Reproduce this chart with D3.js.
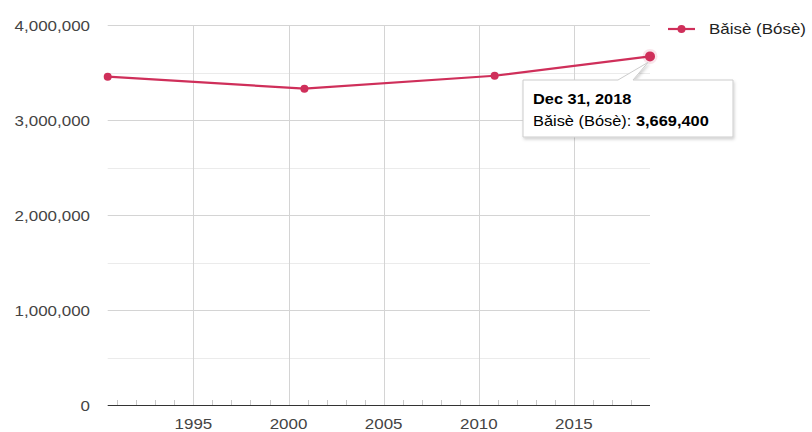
<!DOCTYPE html>
<html>
<head>
<meta charset="utf-8">
<script src="https://cdn.jsdelivr.net/npm/d3@7"></script>
<style>
  html, body { margin: 0; padding: 0; background: #fff; }
  svg { display: block; font-family: Arial, "Liberation Sans", sans-serif; }
</style>
</head>
<body>
<svg id="chart" width="812" height="432"></svg>
<script>
// Population series
const seriesName = "Bǎisè (Bósè)";
const dates = ["1990-07-01", "2000-11-01", "2010-11-01", "2018-12-31"];
const population = [3456000, 3330000, 3466000, 3669400];
const yTicks = [0, 1000000, 2000000, 3000000, 4000000];
const yMinorTicks = [500000, 1500000, 2500000, 3500000];
const xTickYears = [1995, 2000, 2005, 2010, 2015];
const tooltipDate = "Dec 31, 2018";

const parse = d3.utcParse("%Y-%m-%d");
const data = dates.map((d, i) => ({ date: parse(d), value: population[i] }));

const svg = d3.select("#chart");
const plot = { left: 107.7, right: 650, top: 25, bottom: 405 };
const stretch = 1.13; // horizontal text scale
const color = "#cf2f5a";

const x = d3.scaleUtc()
  .domain(d3.extent(data, d => d.date))
  .range([plot.left, plot.right]);
const y = d3.scaleLinear()
  .domain([0, 4000000])
  .range([plot.bottom, plot.top]);

function label(g, tx, ty, str, opts = {}) {
  return g.append("text")
    .attr("transform", `translate(${tx},${ty}) scale(${stretch},1)`)
    .attr("font-size", opts.size || 15)
    .attr("fill", opts.fill || "#444")
    .attr("text-anchor", opts.anchor || "start")
    .attr("font-weight", opts.weight || "normal")
    .text(str);
}

// Minor horizontal gridlines
svg.append("g").selectAll("line").data(yMinorTicks).join("line")
  .attr("x1", plot.left).attr("x2", plot.right)
  .attr("y1", d => Math.round(y(d)) + 0.5).attr("y2", d => Math.round(y(d)) + 0.5)
  .attr("stroke", "#ebebeb");

// Major horizontal gridlines
svg.append("g").selectAll("line").data(yTicks.filter(d => d > 0)).join("line")
  .attr("x1", plot.left).attr("x2", plot.right)
  .attr("y1", d => Math.round(y(d)) + 0.5).attr("y2", d => Math.round(y(d)) + 0.5)
  .attr("stroke", "#d4d4d4");

// Vertical gridlines every five years
const xTickDates = xTickYears.map(yr => new Date(Date.UTC(yr, 0, 1)));
svg.append("g").selectAll("line").data(xTickDates).join("line")
  .attr("x1", d => Math.round(x(d)) + 0.5).attr("x2", d => Math.round(x(d)) + 0.5)
  .attr("y1", plot.top).attr("y2", plot.bottom)
  .attr("stroke", "#d4d4d4");

// Yearly minor ticks on the baseline
const yearTicks = d3.utcYear.range(x.domain()[0], x.domain()[1])
  .filter(d => d.getUTCFullYear() % 5 !== 0);
svg.append("g").selectAll("line").data(yearTicks).join("line")
  .attr("x1", d => Math.round(x(d)) + 0.5).attr("x2", d => Math.round(x(d)) + 0.5)
  .attr("y1", plot.bottom - 5).attr("y2", plot.bottom)
  .attr("stroke", "#c8c8c8");

// Baseline
svg.append("line")
  .attr("x1", plot.left).attr("x2", plot.right)
  .attr("y1", y(0) + 0.5).attr("y2", y(0) + 0.5)
  .attr("stroke", "#333").attr("stroke-width", 1.2);

// Y axis labels
const fmt = d3.format(",");
const yl = svg.append("g");
yTicks.forEach(v => label(yl, 90, y(v) + 6, fmt(v), { anchor: "end" }));

// X axis labels
const xl = svg.append("g");
xTickDates.forEach(d => label(xl, x(d), 429, String(d.getUTCFullYear()), { anchor: "middle" }));

// Series line and points
svg.append("path")
  .datum(data)
  .attr("fill", "none")
  .attr("stroke", color)
  .attr("stroke-width", 2.2)
  .attr("d", d3.line().x(d => x(d.date)).y(d => y(d.value)));

svg.append("g").selectAll("circle").data(data.slice(0, -1)).join("circle")
  .attr("cx", d => x(d.date)).attr("cy", d => y(d.value))
  .attr("r", 4).attr("fill", color);

// Highlighted last point
const last = data[data.length - 1];
svg.append("circle")
  .attr("cx", x(last.date)).attr("cy", y(last.value))
  .attr("r", 7.5).attr("fill", color).attr("fill-opacity", 0.12);
svg.append("circle")
  .attr("cx", x(last.date)).attr("cy", y(last.value))
  .attr("r", 5).attr("fill", color);

// Legend
const lg = svg.append("g");
lg.append("line").attr("x1", 668).attr("x2", 695).attr("y1", 29).attr("y2", 29)
  .attr("stroke", color).attr("stroke-width", 2.2);
lg.append("circle").attr("cx", 681.5).attr("cy", 29).attr("r", 4).attr("fill", color);
label(lg, 709, 34, seriesName, { fill: "#222" });

// Tooltip for the last point
const defs = svg.append("defs");
const f = defs.append("filter").attr("id", "shadow")
  .attr("x", "-10%").attr("y", "-10%").attr("width", "130%").attr("height", "150%");
f.append("feDropShadow").attr("dx", 1).attr("dy", 2).attr("stdDeviation", 1.5)
  .attr("flood-color", "#000").attr("flood-opacity", 0.18);

const px = x(last.date), py = y(last.value);
const bx0 = 523, bx1 = 733, by0 = 80, by1 = 137;
const tip = svg.append("g");
tip.append("path")
  .attr("d", `M${bx0},${by0} L${bx0 + 95},${by0} L${px - 2},${py + 6} L${bx0 + 110},${by0} L${bx1},${by0} L${bx1},${by1} L${bx0},${by1} Z`)
  .attr("fill", "#fff")
  .attr("stroke", "#cccccc")
  .attr("stroke-width", 1)
  .attr("filter", "url(#shadow)");
label(tip, 533, 104, tooltipDate, { fill: "#000", weight: "bold", size: 14.5 });
const t2 = label(tip, 533, 126, "", { fill: "#000", size: 14.5 });
t2.append("tspan").text(seriesName + ": ");
t2.append("tspan").attr("font-weight", "bold").text(fmt(last.value));
</script>
</body>
</html>
